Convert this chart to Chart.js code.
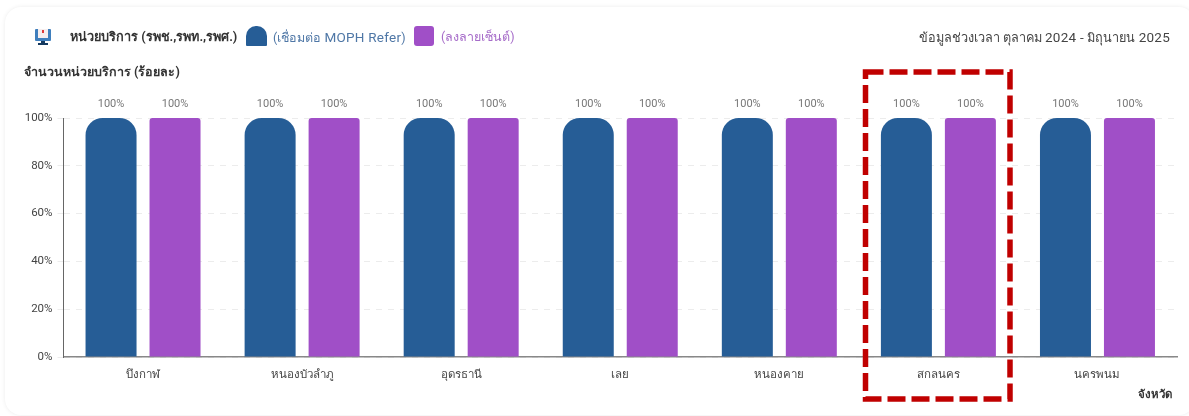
<!DOCTYPE html>
<html lang="th"><head><meta charset="utf-8">
<script src="https://cdn.jsdelivr.net/npm/chart.js@4"></script>
<style>
html,body{margin:0;padding:0;background:#fff;width:1189px;height:416px;overflow:hidden;font-family:Roboto,"Noto Sans",sans-serif}
#card{position:absolute;left:5px;top:7px;width:1190px;height:408px;border-radius:16px;box-shadow:0 0 4px rgba(0,0,0,.08);background:#fff}
#wrap{position:absolute;left:0;top:0;width:1189px;height:416px}
.t{position:absolute;white-space:nowrap;line-height:16px}
.sw{position:absolute;width:21px;height:20px}
.l{font-size:13.5px;letter-spacing:.25px}
svg{position:absolute;left:0;top:0;pointer-events:none}
</style></head><body>
<div id="card"></div>
<div id="wrap"><canvas id="c" width="1189" height="416"></canvas></div>
<svg width="1189" height="416">
 <rect x="35" y="29" width="16" height="12" rx="1" fill="#3f7fbd"/><rect x="38" y="29" width="10" height="9" fill="#f7eeee"/>
 <rect x="42" y="30" width="2" height="3" fill="#e03a3a"/><rect x="41" y="41" width="4" height="2" fill="#14395f"/><rect x="38" y="43" width="10" height="2" fill="#14395f"/>
 <rect x="865.5" y="72" width="144.5" height="327" fill="none" stroke="#c00000" stroke-width="5.5" stroke-dasharray="18 6"/>
</svg>
<div class="t" style="left:70px;top:29px;font-size:12.7px;font-weight:700;color:#333">หน่วยบริการ (รพช.,รพท.,รพศ.)</div>
<div class="sw" style="left:246px;top:26px;background:#265d96;border-radius:10px 10px 1px 1px"></div>
<div class="t" style="left:273px;top:29px;font-size:12.5px;color:#4f77a6">(เชื่อมต่อ <span class="l">MOPH Refer</span>)</div>
<div class="sw" style="left:414px;top:26px;width:20px;background:#a04fc7;border-radius:3px"></div>
<div class="t" style="left:441px;top:29px;font-size:12.5px;color:#a66cc9">(ลงลายเซ็นต์)</div>
<div class="t" style="right:19px;top:29px;font-size:12.7px;color:#444">ข้อมูลช่วงเวลา ตุลาคม <span class="l">2024 - </span>มิถุนายน <span class="l">2025</span></div>
<div class="t" style="left:24px;top:64px;font-size:12.5px;font-weight:700;color:#333">จำนวนหน่วยบริการ (ร้อยละ)</div>
<div class="t" style="right:17px;top:386px;font-size:11.5px;font-weight:700;color:#333">จังหวัด</div>
<script>
const categories = ["บึงกาฬ","หนองบัวลำภู","อุดรธานี","เลย","หนองคาย","สกลนคร","นครพนม"];
const connectedPct = [100,100,100,100,100,100,100];
const signedPct = [100,100,100,100,100,100,100];
const yTicks = [0,20,40,60,80,100];

const valueLabels = {id:"valueLabels",afterDatasetsDraw(ch){
  const g=ch.ctx;g.save();g.font='11px Roboto,"Noto Sans",sans-serif';g.fillStyle="#777";g.textAlign="center";g.textBaseline="bottom";
  ch.data.datasets.forEach((d,i)=>ch.getDatasetMeta(i).data.forEach((b,j)=>g.fillText(d.data[j]+"%",b.x,b.y-8)));
  g.restore();
}};
new Chart(document.getElementById("c"),{
  type:"bar",
  plugins:[valueLabels],
  data:{labels:categories,datasets:[
    {label:"เชื่อมต่อ MOPH Refer",data:connectedPct,backgroundColor:"#265d96",
     borderRadius:{topLeft:17,topRight:17,bottomLeft:0,bottomRight:0},borderSkipped:false},
    {label:"ลงลายเซ็นต์",data:signedPct,backgroundColor:"#a04fc7",
     borderRadius:{topLeft:3,topRight:3,bottomLeft:0,bottomRight:0},borderSkipped:false}
  ]},
  options:{
    responsive:false,animation:false,
    layout:{padding:{top:118,right:12,left:0,bottom:0}},
    plugins:{legend:{display:false},tooltip:{enabled:false},title:{display:false}},
    datasets:{bar:{categoryPercentage:0.8045,barPercentage:0.797}},
    scales:{
      x:{grid:{display:false,drawTicks:false},border:{color:"#888",width:1.5},
         afterFit(s){s.height=59},
         ticks:{color:"#444",font:{size:11.5,family:'Roboto,"Noto Sans",sans-serif'},padding:11,maxRotation:0}},
      y:{min:0,max:100,afterFit(s){s.width=63.5},
         afterBuildTicks(s){s.ticks=yTicks.map(v=>({value:v}))},
         grid:{color:"#ececec",tickColor:"#ececec",tickLength:6,drawTicks:true},
         border:{color:"#666",width:1,dash:[6,6]},
         ticks:{color:"#444",font:{size:11.5,family:'Roboto,"Noto Sans",sans-serif'},padding:5,callback:v=>v+"%"}}
    }
  }
});
</script>
</body></html>
